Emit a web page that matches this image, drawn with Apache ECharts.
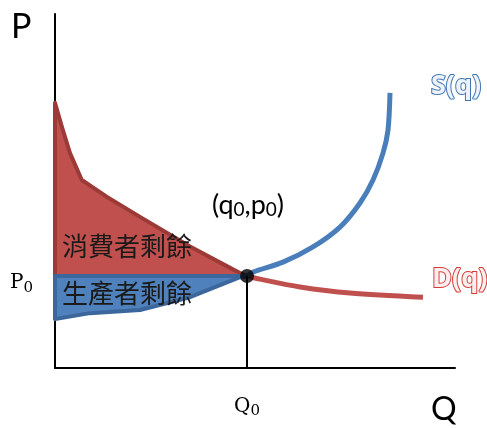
<!DOCTYPE html>
<html><head><meta charset="utf-8">
<script src="https://cdn.jsdelivr.net/npm/echarts@6/dist/echarts.min.js"></script>
<style>html,body{margin:0;padding:0;background:#fff}#c{width:487px;height:428px}</style>
</head><body><div id="c"></div>
<script>
// Equilibrium
const Q0 = 4.8;
const P0 = 2.6;
// Demand curve D(q)
const demandQ = [0, 0.17, 0.375, 0.67, 1.29, 2.125, 3.375, 4.625, 4.8, 5.125, 6.125, 7.375, 9.2];
const demandP = [7.49, 6.82, 6.07, 5.31, 4.84, 4.27, 3.43, 2.68, 2.6, 2.51, 2.29, 2.12, 2.0];
// Supply curve S(q)
const supplyQ = [0, 0.875, 2.125, 3.375, 4.625, 4.8, 4.95, 5.7, 6.45, 7.125, 7.625, 7.95, 8.2, 8.325, 8.375];
const supplyP = [1.38, 1.55, 1.64, 2.0, 2.57, 2.6, 2.71, 2.99, 3.42, 3.98, 4.66, 5.31, 6.07, 6.72, 7.77];
// Text
const yTickLabels = ['P', '0'];
const xTickLabels = ['Q', '0'];
const consumerLabel = '消費者剩餘';
const producerLabel = '生產者剩餘';

const pairs = (qs, ps) => qs.map((q, i) => [q, ps[i]]);
const demand = pairs(demandQ, demandP);
const supply = pairs(supplyQ, supplyP);
const demandLeft = demand.filter(d => d[0] <= Q0);
const supplyLeft = supply.filter(d => d[0] <= Q0);
const consumerPoly = demandLeft.concat([[0, P0]]);
const producerPoly = [[0, P0]].concat([[Q0, P0]], supplyLeft.slice().reverse());

function polySeries(poly, fill, stroke) {
  return {
    type: 'custom', silent: true, clip: false, z: 2,
    data: [[0, 0]],
    renderItem: function (params, api) {
      return {
        type: 'polygon',
        shape: { points: poly.map(p => api.coord(p)), smooth: 0 },
        style: { fill: fill, stroke: stroke, lineWidth: 4, lineJoin: 'round' }
      };
    }
  };
}

const chart = echarts.init(document.getElementById('c'), null, { renderer: 'canvas' });
chart.setOption({
  animation: false,
  backgroundColor: '#ffffff',
  grid: { left: 55, right: 32, top: 14, bottom: 60 },
  xAxis: {
    type: 'value', min: 0, max: 10,
    axisLine: { show: true, onZero: false, lineStyle: { color: '#000', width: 2 } },
    axisTick: { show: false },
    splitLine: { show: false },
    axisLabel: {
      customValues: [Q0], margin: 26,
      formatter: () => '{a|' + xTickLabels[0] + '}{b|' + xTickLabels[1] + '}',
      rich: {
        a: { fontFamily: 'DejaVu Serif', fontSize: 20, color: '#000' },
        b: { fontFamily: 'DejaVu Serif', fontSize: 15, color: '#000', verticalAlign: 'bottom', padding: [10, 0, 0, 0] }
      }
    }
  },
  yAxis: {
    type: 'value', min: 0, max: 10,
    axisLine: { show: true, onZero: false, lineStyle: { color: '#000', width: 2 } },
    axisTick: { show: false },
    splitLine: { show: false },
    axisLabel: {
      customValues: [P0], margin: 22,
      formatter: () => '{a|' + yTickLabels[0] + '}{b|' + yTickLabels[1] + '}',
      rich: {
        a: { fontFamily: 'DejaVu Serif', fontSize: 20, color: '#000', padding: [14, 0, 0, 0] },
        b: { fontFamily: 'DejaVu Serif', fontSize: 15, color: '#000', padding: [24, 0, 0, 0] }
      }
    }
  },
  series: [
    polySeries(consumerPoly, '#c0504d', '#9c3a38'),
    polySeries(producerPoly, '#4f81bd', '#3b679c'),
    {
      type: 'line', data: demand.filter(d => d[0] >= Q0), showSymbol: false, smooth: 0.3,
      lineStyle: { color: '#c0504d', width: 5 }, z: 3
    },
    {
      type: 'line', data: supply.filter(d => d[0] >= 4.625), showSymbol: false, smooth: 0.3,
      lineStyle: { color: '#4a7ebb', width: 5 }, z: 4
    },
    {
      type: 'line', data: [[Q0, 0], [Q0, P0]], showSymbol: false,
      lineStyle: { color: '#000', width: 2 }, z: 5
    },
    {
      type: 'scatter', data: [[Q0, P0]], symbol: 'circle', symbolSize: 14,
      itemStyle: { color: '#000' }, z: 6
    }
  ],
  graphic: [
    { type: 'text', z: 100, left: 11, top: 10, style: { text: 'P', font: '34px Lato', fill: '#000' } },
    { type: 'text', z: 100, left: 431, top: 394, style: { text: 'Q', font: '32px Lato', fill: '#000' } },
    { type: 'text', z: 100, left: 212, top: 192, style: {
      rich: { a: { font: '27px Lato', fill: '#000' }, s: { font: '19px Lato', fill: '#000', padding: [9, 0, 0, 0] } },
      text: '{a|(q}{s|0}{a|,p}{s|0}{a|)}' } },
    { type: 'text', z: 100, left: 62, top: 233, style: { text: consumerLabel, font: '26px "Noto Sans CJK TC"', fill: '#1a1a1a' } },
    { type: 'text', z: 100, left: 62, top: 280, style: { text: producerLabel, font: '26px "Noto Sans CJK TC"', fill: '#1a1a1a' } },
    { type: 'text', z: 100, left: 430, top: 72, style: { text: 'S(q)', font: 'bold 27px "Open Sans"', fill: '#eef3fa', stroke: '#3f74b5', lineWidth: 2,
      shadowColor: 'rgba(0,0,0,0.35)', shadowBlur: 2, shadowOffsetX: 1, shadowOffsetY: 1 } },
    { type: 'text', z: 100, left: 431, top: 265, style: { text: 'D(q)', font: 'bold 27px "Open Sans"', fill: '#fbeeee', stroke: '#d63a36', lineWidth: 2,
      shadowColor: 'rgba(0,0,0,0.35)', shadowBlur: 2, shadowOffsetX: 1, shadowOffsetY: 1 } }
  ]
});
</script></body></html>
